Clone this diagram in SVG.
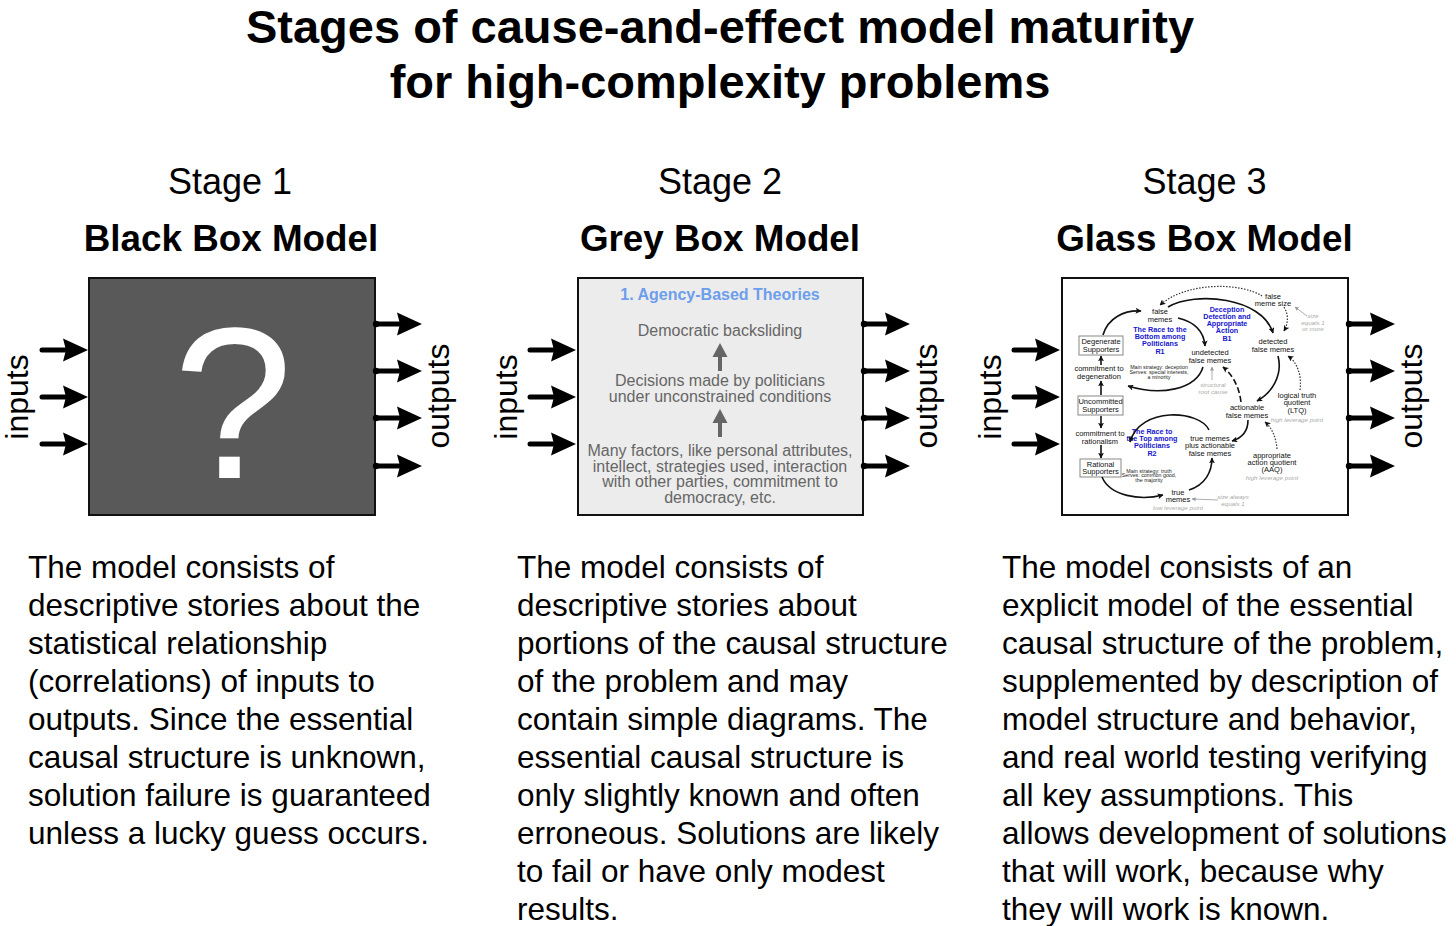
<svg xmlns="http://www.w3.org/2000/svg" xmlns:xlink="http://www.w3.org/1999/xlink" width="1456" height="926" viewBox="0 0 1456 926">
<defs>
<style>
.title{font-family:"Liberation Sans",Arial,sans-serif;font-weight:bold;font-size:47px;fill:#000;text-anchor:middle}
.stage{font-family:"Liberation Sans",Arial,sans-serif;font-size:36px;fill:#000;text-anchor:middle}
.model{font-family:"Liberation Sans",Arial,sans-serif;font-weight:bold;font-size:36.8px;fill:#000;text-anchor:middle}
.io{font-family:"Liberation Sans",Arial,sans-serif;font-size:32px;fill:#000;text-anchor:middle}
.body{font-family:"Liberation Sans",Arial,sans-serif;font-size:31.5px;fill:#000}
.box{stroke:#111;stroke-width:2}
.g2{font-family:"Liberation Sans",Arial,sans-serif;font-size:16px;fill:#666;text-anchor:middle}
.g2h{font-family:"Liberation Sans",Arial,sans-serif;font-size:16px;font-weight:bold;fill:#6d9eeb;text-anchor:middle}
.t{font-family:"Liberation Sans",Arial,sans-serif;font-size:7.5px;fill:#111;text-anchor:middle}
.bl{font-family:"Liberation Sans",Arial,sans-serif;font-size:7.2px;font-weight:bold;fill:#1515d0;text-anchor:middle}
.sm{font-family:"Liberation Sans",Arial,sans-serif;font-size:5.3px;fill:#222;text-anchor:middle}
.gi{font-family:"Liberation Sans",Arial,sans-serif;font-size:6.2px;font-style:italic;fill:#aaa;text-anchor:middle}
.arc{fill:none;stroke:#111;stroke-width:1.6}
.dot{fill:none;stroke:#333;stroke-width:1.2;stroke-dasharray:1.5 1.5}
.dash{fill:none;stroke:#111;stroke-width:1.6;stroke-dasharray:6 3}
.thin{fill:none;stroke:#999;stroke-width:0.8}
.sbox{fill:#fff;stroke:#888;stroke-width:1}
</style>
<marker id="sa" viewBox="0 0 10 10" refX="9" refY="5" markerWidth="6" markerHeight="6" markerUnits="userSpaceOnUse" orient="auto">
<path d="M0,0 L10,5 L0,10 L2.5,5 Z" fill="#111"/>
</marker>
<marker id="ga" viewBox="0 0 10 10" refX="9" refY="5" markerWidth="4" markerHeight="4" markerUnits="userSpaceOnUse" orient="auto">
<path d="M0,0 L10,5 L0,10 Z" fill="#999"/>
</marker>
<g id="arrIn">
<line x1="2" y1="0" x2="28" y2="0" stroke="#000" stroke-width="5" stroke-linecap="round"/>
<path d="M23,-11.5 L48,0 L23,11.5 L26,0 Z" fill="#000"/>
</g>
<g id="arrOut">
<circle cx="0" cy="0" r="3.2" fill="#000"/>
<line x1="0" y1="0" x2="26" y2="0" stroke="#000" stroke-width="5"/>
<path d="M21,-11.5 L46,0 L21,11.5 L24,0 Z" fill="#000"/>
</g>
<g id="grayUp">
<line x1="0" y1="0" x2="0" y2="-17" stroke="#666" stroke-width="4"/>
<path d="M-7.5,-14 L0,-28 L7.5,-14 Z" fill="#666"/>
</g>
</defs>
<rect x="0" y="0" width="1456" height="926" fill="#fff"/>

<g id="title">
<text class="title" x="720" y="43">Stages of cause-and-effect model maturity</text>
<text class="title" x="720" y="98">for high-complexity problems</text>
</g>

<!-- Stage 1 -->
<g id="stage1">
<text class="stage" x="230" y="194">Stage 1</text>
<text class="model" x="231" y="251">Black Box Model</text>
<rect class="box" x="89" y="278" width="286" height="237" fill="#595959"/>
<text x="233" y="478" font-family="'Liberation Sans',Arial,sans-serif" font-size="215" fill="#fff" text-anchor="middle">?</text>
<text class="io" transform="translate(28,397) rotate(-90)">inputs</text>
<text class="io" transform="translate(449,396) rotate(-90)">outputs</text>
</g>

<!-- Stage 2 -->
<g id="stage2">
<text class="stage" x="720" y="194">Stage 2</text>
<text class="model" x="720" y="251">Grey Box Model</text>
<rect class="box" x="578" y="278" width="285" height="237" fill="#ececec"/>
<text class="g2h" x="720" y="300">1. Agency-Based Theories</text>
<text class="g2" x="720" y="336">Democratic backsliding</text>
<use xlink:href="#grayUp" x="720" y="371"/>
<text class="g2" x="720" y="386">Decisions made by politicians</text>
<text class="g2" x="720" y="402">under unconstrained conditions</text>
<use xlink:href="#grayUp" x="720" y="437"/>
<text class="g2" x="720" y="456">Many factors, like personal attributes,</text>
<text class="g2" x="720" y="471.5">intellect, strategies used, interaction</text>
<text class="g2" x="720" y="487">with other parties, commitment to</text>
<text class="g2" x="720" y="502.5">democracy, etc.</text>
<text class="io" transform="translate(517,397) rotate(-90)">inputs</text>
<text class="io" transform="translate(937,396) rotate(-90)">outputs</text>
</g>

<!-- Stage 3 -->
<g id="stage3">
<text class="stage" x="1204.5" y="194">Stage 3</text>
<text class="model" x="1204.5" y="251">Glass Box Model</text>
<rect class="box" x="1062" y="278" width="286" height="237" fill="#fff"/>
<text class="io" transform="translate(1001,397) rotate(-90)">inputs</text>
<text class="io" transform="translate(1422,396) rotate(-90)">outputs</text>
</g>

<!-- Glass box inner diagram nodes -->
<g id="n-degenerate">
<rect class="sbox" x="1079" y="336" width="44" height="19"/>
<text class="t" x="1101" y="344">Degenerate</text>
<text class="t" x="1101" y="351.5">Supporters</text>
</g>
<g id="n-uncommitted">
<rect class="sbox" x="1078" y="396" width="45" height="19"/>
<text class="t" x="1100.5" y="404">Uncommitted</text>
<text class="t" x="1100.5" y="411.5">Supporters</text>
</g>
<g id="n-rational">
<rect class="sbox" x="1080" y="459" width="41" height="18"/>
<text class="t" x="1100.5" y="467">Rational</text>
<text class="t" x="1100.5" y="474">Supporters</text>
</g>
<g id="n-cdeg">
<text class="t" x="1099" y="371">commitment to</text>
<text class="t" x="1099" y="378.5">degeneration</text>
</g>
<g id="n-crat">
<text class="t" x="1100" y="436">commitment to</text>
<text class="t" x="1100" y="443.5">rationalism</text>
</g>
<g id="n-falsememes">
<text class="t" x="1160" y="314">false</text>
<text class="t" x="1160" y="321.5">memes</text>
</g>
<g id="n-R1">
<text class="bl" x="1160" y="332">The Race to the</text>
<text class="bl" x="1160" y="339">Bottom among</text>
<text class="bl" x="1160" y="346">Politicians</text>
<text class="bl" x="1160" y="353.5">R1</text>
<text class="sm" x="1159" y="368.5">Main strategy: deception</text>
<text class="sm" x="1159" y="373.5">Serves: special interests,</text>
<text class="sm" x="1159" y="378.5">a minority</text>
</g>
<g id="n-B1">
<text class="bl" x="1227" y="312">Deception</text>
<text class="bl" x="1227" y="319">Detection and</text>
<text class="bl" x="1227" y="326">Appropriate</text>
<text class="bl" x="1227" y="333">Action</text>
<text class="bl" x="1227" y="341">B1</text>
</g>
<g id="n-undetected">
<text class="t" x="1210" y="355">undetected</text>
<text class="t" x="1210" y="362.5">false memes</text>
</g>
<g id="n-rootcause">
<text class="gi" x="1213" y="387">structural</text>
<text class="gi" x="1213" y="393.5">root cause</text>
</g>
<g id="n-memesize">
<text class="t" x="1273" y="299">false</text>
<text class="t" x="1273" y="306">meme size</text>
<text class="gi" x="1313" y="318">size</text>
<text class="gi" x="1313" y="324.5">equals 1</text>
<text class="gi" x="1313" y="331">or more</text>
</g>
<g id="n-detected">
<text class="t" x="1273" y="344">detected</text>
<text class="t" x="1273" y="351.5">false memes</text>
</g>
<g id="n-LTQ">
<text class="t" x="1297" y="397.5">logical truth</text>
<text class="t" x="1297" y="405">quotient</text>
<text class="t" x="1297" y="412.5">(LTQ)</text>
<text class="gi" x="1297" y="422">high leverage point</text>
</g>
<g id="n-actionable">
<text class="t" x="1247" y="410">actionable</text>
<text class="t" x="1247" y="417.5">false memes</text>
</g>
<g id="n-truepa">
<text class="t" x="1210" y="440.5">true memes</text>
<text class="t" x="1210" y="448">plus actionable</text>
<text class="t" x="1210" y="455.5">false memes</text>
</g>
<g id="n-AAQ">
<text class="t" x="1272" y="458">appropriate</text>
<text class="t" x="1272" y="465">action quotient</text>
<text class="t" x="1272" y="472">(AAQ)</text>
<text class="gi" x="1272" y="480">high leverage point</text>
</g>
<g id="n-R2">
<text class="bl" x="1152" y="434">The Race to</text>
<text class="bl" x="1152" y="441">the Top among</text>
<text class="bl" x="1152" y="448">Politicians</text>
<text class="bl" x="1152" y="455.5">R2</text>
<text class="sm" x="1149" y="472.5">Main strategy: truth</text>
<text class="sm" x="1149" y="477">Serves: common good,</text>
<text class="sm" x="1149" y="481.5">the majority</text>
</g>
<g id="n-truememes">
<text class="t" x="1178" y="494.5">true</text>
<text class="t" x="1178" y="501.5">memes</text>
<text class="gi" x="1178" y="510">low leverage point</text>
<text class="gi" x="1233" y="499">size always</text>
<text class="gi" x="1233" y="505.5">equals 1</text>
</g>

<!-- Connectors -->
<g id="connectors">
<use xlink:href="#arrIn" x="40" y="350"/>
<use xlink:href="#arrIn" x="40" y="397"/>
<use xlink:href="#arrIn" x="40" y="444"/>
<use xlink:href="#arrOut" x="376" y="324"/>
<use xlink:href="#arrOut" x="376" y="371"/>
<use xlink:href="#arrOut" x="376" y="418"/>
<use xlink:href="#arrOut" x="376" y="466"/>

<use xlink:href="#arrIn" x="528" y="350"/>
<use xlink:href="#arrIn" x="528" y="397"/>
<use xlink:href="#arrIn" x="528" y="444"/>
<use xlink:href="#arrOut" x="864" y="324"/>
<use xlink:href="#arrOut" x="864" y="371"/>
<use xlink:href="#arrOut" x="864" y="418"/>
<use xlink:href="#arrOut" x="864" y="466"/>

<use xlink:href="#arrIn" x="1012" y="350"/>
<use xlink:href="#arrIn" x="1012" y="397"/>
<use xlink:href="#arrIn" x="1012" y="444"/>
<use xlink:href="#arrOut" x="1349" y="324"/>
<use xlink:href="#arrOut" x="1349" y="371"/>
<use xlink:href="#arrOut" x="1349" y="418"/>
<use xlink:href="#arrOut" x="1349" y="466"/>

<!-- inner diagram -->
<path class="arc" d="M1103,335 C1108,318 1124,310 1141,311" marker-end="url(#sa)"/>
<path class="arc" d="M1178,318 C1195,322 1204,332 1205,346" marker-end="url(#sa)"/>
<path class="arc" d="M1203,367 C1196,390 1160,396 1128,386" marker-end="url(#sa)"/>
<path class="arc" d="M1101,365 L1101,356" marker-end="url(#sa)"/>
<path class="arc" d="M1101,395 L1101,381" marker-end="url(#sa)"/>
<path class="arc" d="M1101,416 L1101,428" marker-end="url(#sa)"/>
<path class="arc" d="M1101,445 L1101,458" marker-end="url(#sa)"/>
<path class="arc" d="M1102,477 C1110,496 1140,501 1163,495" marker-end="url(#sa)"/>
<path class="arc" d="M1189,490 C1205,485 1212,472 1212,458" marker-end="url(#sa)"/>
<path class="arc" d="M1209,430 C1200,410 1140,406 1130,442" marker-end="url(#sa)"/>
<path class="arc" d="M1168,307 C1195,291 1262,297 1273,333" marker-end="url(#sa)"/>
<path class="arc" d="M1278,356 C1283,375 1272,393 1257,401" marker-end="url(#sa)"/>
<path class="dash" d="M1241,402 C1239,386 1232,374 1223,367" marker-end="url(#sa)"/>
<path class="arc" d="M1248,420 C1248,431 1242,438 1232,441" marker-end="url(#sa)"/>
<path class="dot" d="M1262,296 C1240,282 1186,282 1160,305" marker-end="url(#sa)"/>
<path class="dot" d="M1284,307 C1289,315 1288,324 1284,331" marker-end="url(#sa)"/>
<path class="dot" d="M1300,390 C1302,375 1297,362 1288,356" marker-end="url(#sa)"/>
<path class="dot" d="M1277,449 C1276,437 1272,428 1265,422" marker-end="url(#sa)"/>
<path class="thin" d="M1307,316 L1295,307" marker-end="url(#ga)"/>
<path class="thin" d="M1212,380 L1212,367" marker-end="url(#ga)"/>
<path class="thin" d="M1218,500 L1192,499" marker-end="url(#ga)"/>
</g>

<!-- Descriptions -->
<g id="desc1">
<text class="body" x="28" y="578">The model consists of</text>
<text class="body" x="28" y="616">descriptive stories about the</text>
<text class="body" x="28" y="654">statistical relationship</text>
<text class="body" x="28" y="692">(correlations) of inputs to</text>
<text class="body" x="28" y="730">outputs. Since the essential</text>
<text class="body" x="28" y="768">causal structure is unknown,</text>
<text class="body" x="28" y="806">solution failure is guaranteed</text>
<text class="body" x="28" y="844">unless a lucky guess occurs.</text>
</g>
<g id="desc2">
<text class="body" x="517" y="578">The model consists of</text>
<text class="body" x="517" y="616">descriptive stories about</text>
<text class="body" x="517" y="654">portions of the causal structure</text>
<text class="body" x="517" y="692">of the problem and may</text>
<text class="body" x="517" y="730">contain simple diagrams. The</text>
<text class="body" x="517" y="768">essential causal structure is</text>
<text class="body" x="517" y="806">only slightly known and often</text>
<text class="body" x="517" y="844">erroneous. Solutions are likely</text>
<text class="body" x="517" y="882">to fail or have only modest</text>
<text class="body" x="517" y="920">results.</text>
</g>
<g id="desc3">
<text class="body" x="1002" y="578">The model consists of an</text>
<text class="body" x="1002" y="616">explicit model of the essential</text>
<text class="body" x="1002" y="654">causal structure of the problem,</text>
<text class="body" x="1002" y="692">supplemented by description of</text>
<text class="body" x="1002" y="730">model structure and behavior,</text>
<text class="body" x="1002" y="768">and real world testing verifying</text>
<text class="body" x="1002" y="806">all key assumptions. This</text>
<text class="body" x="1002" y="844">allows development of solutions</text>
<text class="body" x="1002" y="882">that will work, because why</text>
<text class="body" x="1002" y="920">they will work is known.</text>
</g>
</svg>
